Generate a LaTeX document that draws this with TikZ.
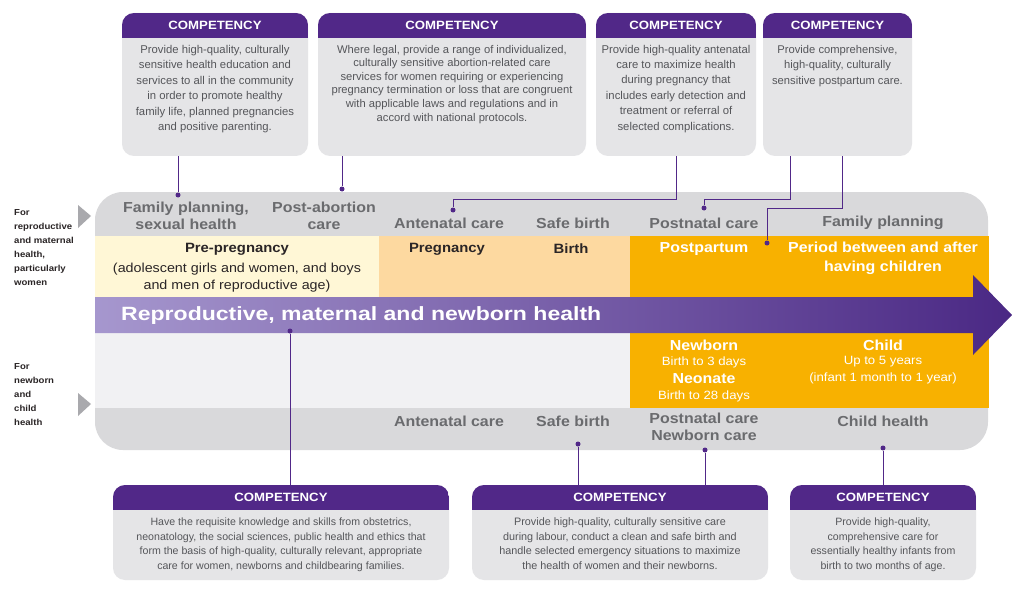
\documentclass[tikz,border=0pt]{standalone}
\usepackage{fontspec}
\setmainfont{Liberation Sans}
\newfontfamily\widesans[FakeStretch=1.1]{Liberation Sans}
\newfontfamily\bannersans[FakeStretch=1.2]{Liberation Sans}
\usetikzlibrary{calc}
\definecolor{hdrpurple}{HTML}{512888}
\definecolor{boxgray}{HTML}{E5E5E7}
\definecolor{bandgray}{HTML}{D9D9DB}
\definecolor{lightrow}{HTML}{F1F1F3}
\definecolor{lblgray}{HTML}{6A6B6E}
\definecolor{boxtext}{HTML}{55565A}
\definecolor{paleyellow}{HTML}{FFF7D6}
\definecolor{peach}{HTML}{FDD9A0}
\definecolor{orange}{HTML}{F8B100}
\definecolor{darktext}{HTML}{2A2526}
\definecolor{arrowleft}{HTML}{A697CE}
\definecolor{arrowright}{HTML}{4A2884}
\definecolor{tri}{HTML}{A9A9AD}
\begin{document}
\begin{tikzpicture}[x=1pt,y=-1pt,
  compbox/.style={fill=boxgray, rounded corners=12pt, inner sep=0pt,
    path picture={\fill[hdrpurple, sharp corners] (path picture bounding box.north west) rectangle ([yshift=-25pt]path picture bounding box.north east);}},
  hdrtext/.style={text=white, inner sep=0pt, font=\widesans\bfseries\fontsize{12}{14}\selectfont},
  bodytext/.style={text=boxtext, align=center, inner sep=0pt, anchor=north},
  bandlbl/.style={text=lblgray, align=center, inner sep=0pt, font=\widesans\bfseries\fontsize{14.5}{17}\selectfont},
  phase/.style={text=darktext, align=center, inner sep=0pt, font=\widesans\bfseries\fontsize{13.5}{16}\selectfont},
  phasesub/.style={text=darktext, align=center, inner sep=0pt, font=\widesans\fontsize{13}{17}\selectfont},
  wphase/.style={text=white, align=center, inner sep=0pt, font=\widesans\bfseries\fontsize{14.5}{19}\selectfont},
  wsub/.style={text=white, align=center, inner sep=0pt, font=\widesans\fontsize{12}{17}\selectfont},
  sidelbl/.style={text=darktext, align=left, inner sep=0pt, anchor=north west, font=\widesans\bfseries\fontsize{8.7}{14}\selectfont},
  dotn/.style={circle, fill=hdrpurple, inner sep=0pt, minimum size=5pt},
  conn/.style={draw=hdrpurple, line width=0.9pt}
]
\useasboundingbox (0,0) rectangle (1012,591);
\fill[white] (0,0) rectangle (1012,591);

% ---- central band ----
\fill[bandgray, rounded corners=28pt] (95,192) rectangle (988,450);
\fill[paleyellow] (95,236) rectangle (379,297);
\fill[peach] (379,236) rectangle (630,297);
\fill[orange] (630,236) rectangle (989,297);
\fill[lightrow] (95,333) rectangle (630,408);
\fill[orange] (630,333) rectangle (989,408);

% ---- main arrow ----
\shade[left color=arrowleft, right color=arrowright]
  (95,297) -- (973,297) -- (973,275) -- (1012,315) -- (973,355) -- (973,333) -- (95,333) -- cycle;
\node[text=white, anchor=west, inner sep=0pt, font=\bannersans\bfseries\fontsize{19.2}{22}\selectfont] (title) at (121,316) {Reproductive, maternal and newborn health};

% ---- side pointers and labels ----
\fill[tri] (78,205) -- (91,216) -- (78,228) -- cycle;
\fill[tri] (78,393) -- (91,404) -- (78,416) -- cycle;
\node[sidelbl] (sideA) at (14,209) {For\\reproductive\\and maternal\\health,\\particularly\\women};
\node[sidelbl] (sideB) at (14,363) {For\\newborn\\and\\child\\health};

% ---- band labels ----
\node[bandlbl] (fp1) at (186,216) {Family planning,\\sexual health};
\node[bandlbl] (pac) at (324,216) {Post-abortion\\care};
\node[bandlbl] (anc1) at (449,223) {Antenatal care};
\node[bandlbl] (sb1) at (573,223) {Safe birth};
\node[bandlbl] (pnc1) at (704,223) {Postnatal care};
\node[bandlbl] (fp2) at (883,223) {Family planning};

\node[bandlbl] (anc2) at (449,421) {Antenatal care};
\node[bandlbl] (sb2) at (573,421) {Safe birth};
\node[bandlbl, anchor=north] (pnc2) at (704,413) {Postnatal care\\Newborn care};
\node[bandlbl] (ch) at (883,421) {Child health};

% ---- phases ----
\node[phase] (prepreg) at (237,249) {Pre-pregnancy};
\node[phasesub] (prepregsub) at (237,278) {(adolescent girls and women, and boys\\and men of reproductive age)};
\node[phase] (preg) at (447,249) {Pregnancy};
\node[phase] (birth) at (571,249) {Birth};
\node[wphase] (postp) at (704,249) {Postpartum};
\node[wphase] (between) at (883,258) {Period between and after\\having children};

\node[wphase] (newborn) at (704,345) {Newborn};
\node[wsub] (nbsub) at (704,362) {Birth to 3 days};
\node[wphase] (neonate) at (704,379) {Neonate};
\node[wsub] (neosub) at (704,396) {Birth to 28 days};
\node[wphase] (child) at (883,345) {Child};
\node[wsub] (childsub) at (883,370.5) {Up to 5 years\\(infant 1 month to 1 year)};

% ---- competency boxes, upper row ----
\node[compbox, minimum width=186pt, minimum height=143pt] (c1) at (215,84.5) {};
\node[hdrtext] at ([yshift=-13pt]c1.north) {COMPETENCY};
\node[bodytext, font=\fontsize{11.3}{15.5}\selectfont] at ([yshift=-32pt]c1.north)
  {Provide high-quality, culturally\\sensitive health education and\\services to all in the community\\in order to promote healthy\\family life, planned pregnancies\\and positive parenting.};

\node[compbox, minimum width=268pt, minimum height=143pt] (c2) at (452,84.5) {};
\node[hdrtext] at ([yshift=-13pt]c2.north) {COMPETENCY};
\node[bodytext, font=\fontsize{11.2}{13.6}\selectfont] at ([yshift=-32pt]c2.north)
  {Where legal, provide a range of individualized,\\culturally sensitive abortion-related care\\services for women requiring or experiencing\\pregnancy termination or loss that are congruent\\with applicable laws and regulations and in\\accord with national protocols.};

\node[compbox, minimum width=160pt, minimum height=143pt] (c3) at (676,84.5) {};
\node[hdrtext] at ([yshift=-13pt]c3.north) {COMPETENCY};
\node[bodytext, font=\fontsize{11.3}{15.4}\selectfont] at ([yshift=-32pt]c3.north)
  {Provide high-quality antenatal\\care to maximize health\\during pregnancy that\\includes early detection and\\treatment or referral of\\selected complications.};

\node[compbox, minimum width=149pt, minimum height=143pt] (c4) at (837.5,84.5) {};
\node[hdrtext] at ([yshift=-13pt]c4.north) {COMPETENCY};
\node[bodytext, font=\fontsize{11.2}{15.5}\selectfont] at ([yshift=-32pt]c4.north)
  {Provide comprehensive,\\high-quality, culturally\\sensitive postpartum care.};

% ---- competency boxes, lower row ----
\node[compbox, minimum width=336pt, minimum height=95pt] (c5) at (281,532.5) {};
\node[hdrtext] at ([yshift=-12.5pt]c5.north) {COMPETENCY};
\node[bodytext, font=\fontsize{10.6}{14.5}\selectfont] at ([yshift=-33pt]c5.north)
  {Have the requisite knowledge and skills from obstetrics,\\neonatology, the social sciences, public health and ethics that\\form the basis of high-quality, culturally relevant, appropriate\\care for women, newborns and childbearing families.};

\node[compbox, minimum width=296pt, minimum height=95pt] (c6) at (620,532.5) {};
\node[hdrtext] at ([yshift=-12.5pt]c6.north) {COMPETENCY};
\node[bodytext, font=\fontsize{10.8}{14.5}\selectfont] at ([yshift=-33pt]c6.north)
  {Provide high-quality, culturally sensitive care\\during labour, conduct a clean and safe birth and\\handle selected emergency situations to maximize\\the health of women and their newborns.};

\node[compbox, minimum width=186pt, minimum height=95pt] (c7) at (883,532.5) {};
\node[hdrtext] at ([yshift=-12.5pt]c7.north) {COMPETENCY};
\node[bodytext, font=\fontsize{10.6}{14.5}\selectfont] at ([yshift=-33pt]c7.north)
  {Provide high-quality,\\comprehensive care for\\essentially healthy infants from\\birth to two months of age.};

% ---- connector end dots ----
\node[dotn] (d1) at (178,195) {};
\node[dotn] (d2) at (342,189) {};
\node[dotn] (d3) at (453,210) {};
\node[dotn] (d4a) at (704,208) {};
\node[dotn] (d4b) at (767,243) {};
\node[dotn] (d5) at (290,331) {};
\node[dotn] (d6a) at (578,444) {};
\node[dotn] (d6b) at (705,450) {};
\node[dotn] (d7) at (883,448) {};

% ---- connectors ----
\draw[conn] ([xshift=-37pt]c1.south) -- (d1);
\draw[conn] ([xshift=-110pt]c2.south) -- (d2);
\draw[conn] (c3.south) -- ++(0,43) -| (d3);
\draw[conn] ([xshift=-47.5pt]c4.south) -- ++(0,43) -| (d4a);
\draw[conn] ([xshift=4.5pt]c4.south) -- ++(0,52) -| (d4b);
\draw[conn] ([xshift=9pt]c5.north) -- (d5);
\draw[conn] ([xshift=-42pt]c6.north) -- (d6a);
\draw[conn] ([xshift=85pt]c6.north) -- (d6b);
\draw[conn] (c7.north) -- (d7);
\end{tikzpicture}
\end{document}
